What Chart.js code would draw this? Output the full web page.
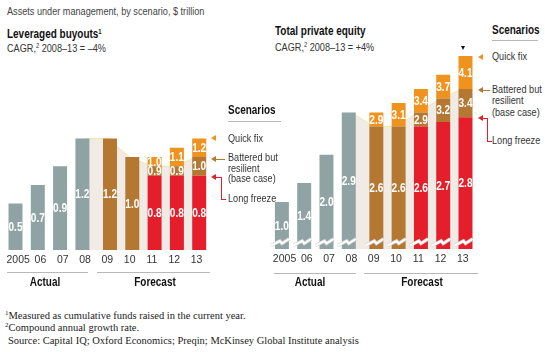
<!DOCTYPE html>
<html>
<head>
<meta charset="utf-8">
<script src="https://cdn.jsdelivr.net/npm/chart.js@4.4.0/dist/chart.umd.min.js"></script>
<style>
body{margin:0;background:#fff;width:545px;height:352px;overflow:hidden;position:relative;
  font-family:"Liberation Sans",Arial,sans-serif;color:#333}
.t{position:absolute;white-space:nowrap;font-size:11px;line-height:13px;transform:scaleX(0.83);transform-origin:0 0}
.b{font-weight:bold;color:#111;font-size:12px}
.c{text-align:center;width:100px;transform-origin:50% 0}
.sup{font-size:7px;vertical-align:4px}
.serif{font-family:"Liberation Serif","DejaVu Serif",serif;font-size:10.5px;color:#222;transform:none}
.rule{position:absolute;height:1px;background:#b8b8b8}
.ln{position:absolute}
.tri{position:absolute;width:0;height:0;border-top:3.5px solid transparent;border-bottom:3.5px solid transparent;border-right:5px solid #000}
canvas{position:absolute}
</style>
</head>
<body>
<div class="t" style="left:7px;top:5px;color:#444">Assets under management, by scenario, $ trillion</div>

<div class="t b" style="left:7px;top:25px">Leveraged buyouts<span class="sup">1</span></div>
<div class="t" style="left:7px;top:39px">CAGR,<span class="sup">2</span> 2008–13 = –4%</div>
<div class="t b" style="left:275px;top:25px">Total private equity</div>
<div class="t" style="left:275px;top:38px">CAGR,<span class="sup">2</span> 2008–13 = +4%</div>

<canvas id="lboChart" width="220" height="180" style="left:0;top:100px"></canvas>
<canvas id="peChart" width="225" height="250" style="left:260px;top:30px"></canvas>

<!-- left legend -->
<div class="t b" style="left:228px;top:104px">Scenarios</div>
<div class="rule" style="left:228px;top:121px;width:53px"></div>
<div class="t" style="left:228px;top:132px">Quick fix</div>
<div class="t" style="left:228px;top:152px;line-height:10.5px">Battered but<br>resilient<br>(base case)</div>
<div class="t" style="left:228px;top:192px">Long freeze</div>
<div class="tri" style="left:211px;top:134.5px;border-right-color:#f0921e"></div>
<div class="tri" style="left:211px;top:155.5px;border-right-color:#b57833"></div>
<div class="ln" style="left:216px;top:158.5px;width:9px;height:1px;background:#b57833"></div>
<div class="tri" style="left:211px;top:173.5px;border-right-color:#e41f2b"></div>
<div class="ln" style="left:216px;top:176.5px;width:5px;height:22px;border-top:1px solid #e41f2b;border-right:1px solid #e41f2b"></div>
<div class="ln" style="left:221px;top:198.5px;width:5px;height:1px;background:#e41f2b"></div>

<!-- right legend -->
<div class="t b" style="left:492px;top:24px">Scenarios</div>
<div class="rule" style="left:492px;top:40px;width:46px"></div>
<div class="t" style="left:492px;top:50px">Quick fix</div>
<div class="t" style="left:492px;top:84px;line-height:11.3px">Battered but<br>resilient<br>(base case)</div>
<div class="t" style="left:492px;top:134px">Long freeze</div>
<div class="tri" style="left:478px;top:53.5px;border-right-color:#f0921e"></div>
<div class="tri" style="left:478px;top:87px;border-right-color:#b57833"></div>
<div class="ln" style="left:483px;top:90px;width:7px;height:1px;background:#b57833"></div>
<div class="tri" style="left:478px;top:114.5px;border-right-color:#e41f2b"></div>
<div class="ln" style="left:483px;top:117.5px;width:4px;height:23px;border-top:1px solid #e41f2b;border-right:1px solid #e41f2b"></div>
<div class="ln" style="left:487px;top:140.5px;width:5px;height:1px;background:#e41f2b"></div>
<div class="ln" style="left:460.5px;top:46px;width:0;height:0;border-left:2.5px solid transparent;border-right:2.5px solid transparent;border-top:4.5px solid #111"></div>

<!-- group labels -->
<div class="rule" style="left:7px;top:272px;width:81px"></div>
<div class="rule" style="left:97px;top:272px;width:113px"></div>
<div class="t b c" style="left:-5px;top:276px">Actual</div>
<div class="t b c" style="left:105px;top:276px">Forecast</div>
<div class="rule" style="left:274px;top:273px;width:82px"></div>
<div class="rule" style="left:364px;top:273px;width:114px"></div>
<div class="t b c" style="left:260px;top:276px">Actual</div>
<div class="t b c" style="left:372px;top:276px">Forecast</div>

<div class="t serif" style="left:5px;top:307px"><span class="sup">1</span>Measured as cumulative funds raised in the current year.</div>
<div class="t serif" style="left:5px;top:319px"><span class="sup">2</span>Compound annual growth rate.</div>
<div class="t serif" style="left:8px;top:334px">Source: Capital IQ; Oxford Economics; Preqin; McKinsey Global Institute analysis</div>

<script>
var FONT = '"Liberation Sans", Arial, sans-serif';

var years = ['2005', '06', '07', '08', '09', '10', '11', '12', '13'];

// Leveraged buyouts, $ trillion (labels show totals)
var lboActual     = [0.5, 0.7, 0.9, 1.2, null, null, null, null, null];
var lboLongFreeze = [null, null, null, null, null, null, 0.8, 0.8, 0.8];
var lboBaseCase   = [null, null, null, null, 1.2, 1.0, 0.9, 0.9, 1.0];
var lboQuickFix   = [null, null, null, null, null, null, 1.0, 1.1, 1.2];

// Total private equity, $ trillion
var peActual     = [1.0, 1.4, 2.0, 2.9, null, null, null, null, null];
var peLongFreeze = [null, null, null, null, null, null, 2.6, 2.7, 2.8];
var peBaseCase   = [null, null, null, null, 2.6, 2.6, 2.9, 3.2, 3.4];
var peQuickFix   = [null, null, null, null, 2.9, 3.1, 3.4, 3.7, 4.1];

var GRAY = '#8fa2a4', RED = '#e41f2b', BROWN = '#b57833', ORANGE = '#f0921e';

// segment height = total minus the total of the scenario below it
function segment(top, below) {
    return top.map(function(v, i) {
        if (v == null) return null;
        var b = below[i] == null ? 0 : below[i];
        var d = Math.round((v - b) * 10) / 10;
        return d > 0 ? d : null;
    });
}

var barLabels = {
    id: 'barLabels',
    afterDatasetsDraw: function(chart) {
        var ctx = chart.ctx;
        chart.data.datasets.forEach(function(ds, i) {
            if (!ds.totals) return;
            chart.getDatasetMeta(i).data.forEach(function(bar, j) {
                if (ds.data[j] == null) return;
                ctx.save();
                ctx.fillStyle = '#fff';
                ctx.font = 'bold 13px ' + FONT;
                ctx.textAlign = 'center';
                ctx.textBaseline = 'middle';
                ctx.translate(bar.x, (bar.y + bar.base) / 2 + 0.5);
                ctx.scale(0.78, 1);  // narrow it like the condensed face
                ctx.fillText(ds.totals[j].toFixed(1), 0, 0);
                ctx.restore();
            });
        });
    }
};

var axisBreak = {
    id: 'axisBreak',
    afterDatasetsDraw: function(chart, args, opts) {
        if (!opts.show) return;
        var ctx = chart.ctx;
        var zero = chart.scales.y.getPixelForValue(0);
        var y0 = zero - 7;
        ctx.save();
        chart.data.datasets.forEach(function(ds, i) {
            if (!ds.totals) return;
            chart.getDatasetMeta(i).data.forEach(function(bar, j) {
                if (ds.data[j] == null || Math.abs(bar.base - zero) > 0.5) return;
                var x = bar.x;
                ctx.beginPath();
                ctx.moveTo(x - 11, y0 + 3.5);
                ctx.lineTo(x - 2, y0 - 1);
                ctx.lineTo(x, y0 + 1.5);
                ctx.lineTo(x + 7, y0 - 3);
                ctx.strokeStyle = '#d0d0d0';
                ctx.lineWidth = 3.5;
                ctx.stroke();
                ctx.strokeStyle = '#fff';
                ctx.lineWidth = 2;
                ctx.stroke();
            });
        });
        ctx.restore();
    }
};

function makeChart(id, actual, longFreeze, baseCase, quickFix, yMax, padding, showBreak) {
    var band = baseCase.slice();
    band[3] = actual[3];
    var bar = { categoryPercentage: 0.475, barPercentage: 2.64 };
    return new Chart(document.getElementById(id), {
        type: 'bar',
        data: {
            labels: years,
            datasets: [
                { type: 'line', data: band, fill: 'origin', backgroundColor: '#f0ebe4',
                  borderColor: '#f4e5aa', borderWidth: 1, pointRadius: 0, tension: 0, order: 1 },
                Object.assign({ data: actual, totals: actual, stack: 'actual', backgroundColor: GRAY, order: 0 }, bar),
                Object.assign({ data: longFreeze, totals: longFreeze, stack: 'forecast', backgroundColor: RED, order: 0 }, bar),
                Object.assign({ data: segment(baseCase, longFreeze), totals: baseCase, stack: 'forecast', backgroundColor: BROWN, order: 0 }, bar),
                Object.assign({ data: segment(quickFix, baseCase), totals: quickFix, stack: 'forecast', backgroundColor: ORANGE, order: 0 }, bar)
            ]
        },
        options: {
            responsive: false,
            animation: false,
            layout: { padding: padding },
            plugins: { legend: { display: false }, tooltip: { enabled: false }, axisBreak: { show: showBreak } },
            scales: {
                x: {
                    stacked: true,
                    grid: { display: false, drawTicks: false },
                    border: { display: false },
                    ticks: { padding: 4, color: '#333', maxRotation: 0, minRotation: 0, autoSkip: false,
                             font: { family: FONT, size: 10.5 } }
                },
                y: { display: false, stacked: true, min: 0, max: yMax }
            }
        },
        plugins: [barLabels, axisBreak]
    });
}

makeChart('lboChart', lboActual, lboLongFreeze, lboBaseCase, lboQuickFix, 1.3,
    { left: 7, right: 12.3, top: 29.2, bottom: 9.4 }, false);
makeChart('peChart', peActual, peLongFreeze, peBaseCase, peQuickFix, 4.3,
    { left: 13.4, right: 11, top: 16.6, bottom: 10.4 }, true);
</script>
</body>
</html>
